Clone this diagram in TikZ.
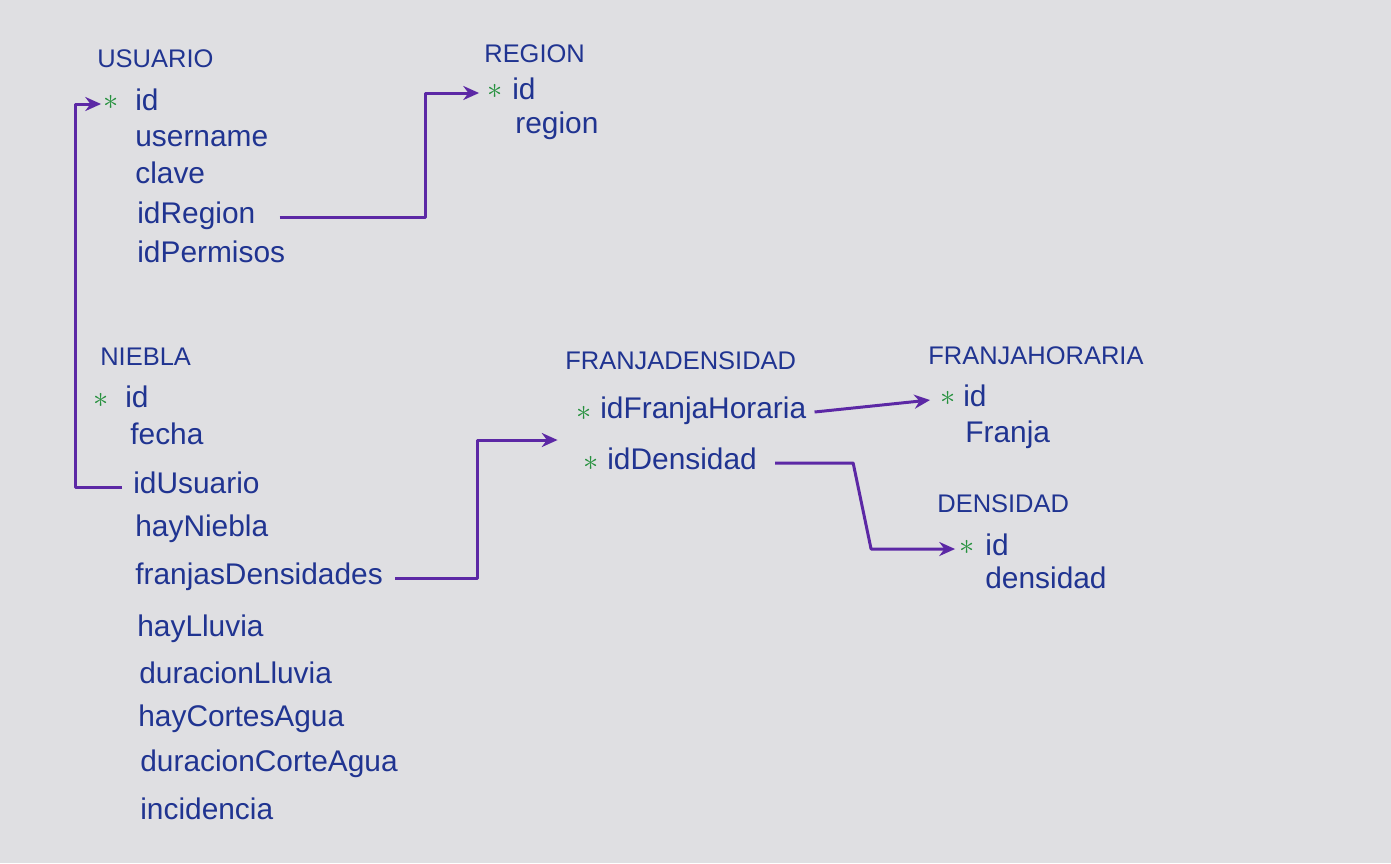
\documentclass[tikz,border=0pt]{standalone}
\usepackage{fontspec}
\setmainfont{Liberation Sans}
\usetikzlibrary{arrows.meta,calc}
\definecolor{paper}{RGB}{223,223,226}
\definecolor{ink}{RGB}{32,52,145}
\definecolor{marker}{RGB}{92,40,165}
\definecolor{keygreen}{RGB}{38,145,62}

\begin{document}
\begin{tikzpicture}[x=0.02cm,y=-0.02cm]
                    \tikzset{execute at begin node=\strut}
                    \tikzset{every node/.style={anchor=west, inner sep=0pt, text=ink, font=\fontsize{17}{15}\selectfont}}
                    \tikzset{table/.style={font=\fontsize{14.5}{15}\selectfont}}
                    \tikzset{pk/.style={anchor=center, text=keygreen, execute at begin node={}, font=\fontsize{16}{15}\selectfont}}
                    \tikzset{link/.style={draw=marker, line width=1.7pt, line join=round, -{Stealth[length=9pt,width=8pt]}}}
                    \fill[paper] (0,0) rectangle (1391,863);
                    % USUARIO
                    \node[table] (usuario) at (97,62) {USUARIO};
                    \node[pk] (ukey) at (111,104) {$\ast$};
                    \node (uid) at (135,104) {id};
                    \node (uname) at (135,141) {username};
                    \node (uclave) at (135,177) {clave};
                    \node (uregion) at (137,217) {idRegion};
                    \node (upermisos) at (137,256) {idPermisos};
                    % REGION
                    \node[table] (region) at (484,57) {REGION};
                    \node[pk] (rkey) at (495,93) {$\ast$};
                    \node (rid) at (512,93) {id};
                    \node (rregion) at (515,127) {region};
                    % NIEBLA
                    \node[table] (niebla) at (100,360) {NIEBLA};
                    \node[pk] (nkey) at (101,402) {$\ast$};
                    \node (nid) at (125,401) {id};
                    \node (nfecha) at (130,438) {fecha};
                    \node (nusuario) at (133,487) {idUsuario};
                    \node (nniebla) at (135,530) {hayNiebla};
                    \node (nfranjas) at (135,578) {franjasDensidades};
                    \node (nlluvia) at (137,630) {hayLluvia};
                    \node (ndurlluvia) at (139,677) {duracionLluvia};
                    \node (ncortes) at (138,720) {hayCortesAgua};
                    \node (ndurcorte) at (140,765) {duracionCorteAgua};
                    \node (nincidencia) at (140,813) {incidencia};
                    % FRANJADENSIDAD
                    \node[table] (fdensidad) at (565,364) {FRANJADENSIDAD};
                    \node[pk] (fdkeyhor) at (584,415) {$\ast$};
                    \node (fdhoraria) at (600,412) {idFranjaHoraria};
                    \node[pk] (fdkeydens) at (591,465) {$\ast$};
                    \node (fddensidad) at (607,463) {idDensidad};
                    \coordinate (fdkeys) at ($(fdkeyhor.west)!.5!(fdkeydens.west)$);
                    % FRANJAHORARIA
                    \node[table] (fhoraria) at (928,359) {FRANJAHORARIA};
                    \node[pk] (fhkey) at (948,400) {$\ast$};
                    \node (fhid) at (963,400) {id};
                    \node (fhfranja) at (965,436) {Franja};
                    % DENSIDAD
                    \node[table] (densidad) at (937,507) {DENSIDAD};
                    \node[pk] (dkey) at (967,549) {$\ast$};
                    \node (did) at (985,549) {id};
                    \node (ddensidad) at (985,582) {densidad};
                    % relaciones
                    \draw[link] ($(uregion.east)+(24,0)$) -| ($(rkey.west)+(-62,0)$) -- ($(rkey.west)+(-8,0)$);
                    \draw[link] ($(nusuario.west)+(-11,0)$) -| ($(ukey.west)+(-28,0)$) -- ($(ukey.west)+(-2,0)$);
                    \draw[link] ($(nfranjas.east)+(12,0)$) -| ($(fdkeys)+(-102,0)$) -- ($(fdkeys)+(-22,0)$);
                    \draw[link] ($(fdhoraria.east)+(8,0)$) -- ($(fhkey.west)+(-10,0)$);
                    \draw[link] ($(fddensidad.east)+(18,0)$) -- ++(78,0) -- ($(dkey.west)+(-88,0)$) -- ($(dkey.west)+(-4,0)$);
                    \end{tikzpicture}
\end{document}
